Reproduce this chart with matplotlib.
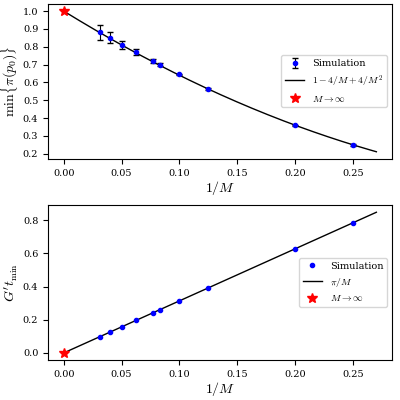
import matplotlib
matplotlib.use("Agg")
import matplotlib.pyplot as plt
import numpy as np

plt.rcParams['mathtext.fontset'] = 'cm'
plt.rcParams['font.family'] = 'serif'
plt.rcParams['font.serif'] = ['DejaVu Serif']

inv_m = [0.03125, 0.04, 0.05, 0.0625, 0.077, 0.0833, 0.1, 0.125, 0.2, 0.25]
min_pi = [0.88, 0.85, 0.81, 0.77, 0.72, 0.70, 0.645, 0.565, 0.36, 0.25]
min_pi_err = [0.04, 0.03, 0.02, 0.015, 0.01, 0.01, 0.005, 0.005, 0.004, 0.004]
gt_min = [0.098, 0.126, 0.157, 0.196, 0.242, 0.262, 0.314, 0.393, 0.628, 0.785]
limit_top = 1.0
limit_bottom = 0.0

x = np.linspace(0, 0.27, 200)

fig, (ax1, ax2) = plt.subplots(2, 1, figsize=(4, 4), dpi=100)

h1 = ax1.errorbar(inv_m, min_pi, yerr=min_pi_err, fmt='o', color='blue', ms=3,
                  ecolor='black', elinewidth=0.8, capsize=2, label='Simulation', zorder=3)
h2, = ax1.plot(x, 1 - 4 * x + 4 * x**2, color='black', lw=1, label=r'$1-4/M+4/M^2$')
h3, = ax1.plot(0, limit_top, '*', color='red', ms=7, label=r'$M\to\infty$', zorder=4)
ax1.set_xlabel(r'$1/M$', fontsize=10, labelpad=1)
ax1.set_ylabel(r'$\min\{\pi(p_0)\}$', fontsize=10, labelpad=2)
ax1.set_yticks(np.arange(0.2, 1.01, 0.1))
ax1.set_xticks(np.arange(0, 0.26, 0.05))
ax1.tick_params(labelsize=7)
ax1.legend([h1, h2, h3], ['Simulation', r'$1-4/M+4/M^2$', r'$M\to\infty$'],
           fontsize=7, loc='center right')

ax2.plot(inv_m, gt_min, 'o', color='blue', ms=3, label='Simulation', zorder=3)
ax2.plot(x, np.pi * x, color='black', lw=1, label=r'$\pi/M$')
ax2.plot(0, limit_bottom, '*', color='red', ms=7, label=r'$M\to\infty$', zorder=4)
ax2.set_xlabel(r'$1/M$', fontsize=10, labelpad=1)
ax2.set_ylabel(r'$G^\prime t_{\min}$', fontsize=10, labelpad=2)
ax2.set_yticks(np.arange(0, 0.81, 0.2))
ax2.set_xticks(np.arange(0, 0.26, 0.05))
ax2.tick_params(labelsize=7)
ax2.legend(fontsize=7, loc='center right')

fig.subplots_adjust(left=0.12, right=0.98, top=0.99, bottom=0.1, hspace=0.3)
fig.savefig('out.png')
